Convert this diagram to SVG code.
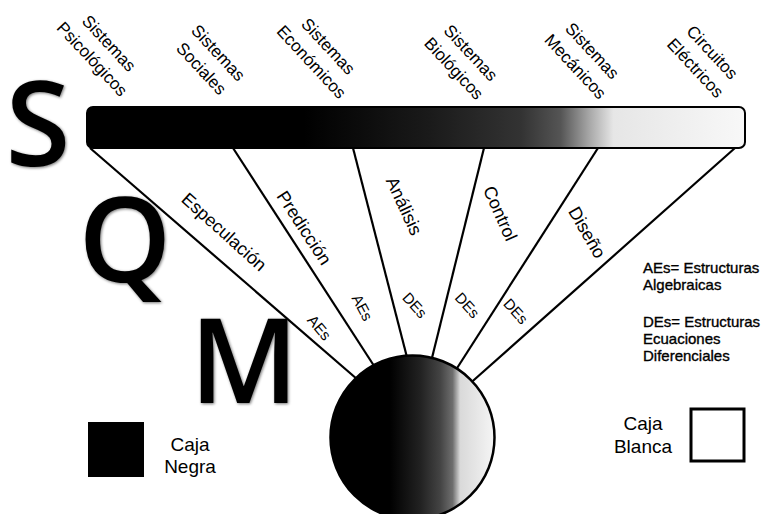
<svg xmlns="http://www.w3.org/2000/svg" width="769" height="514" viewBox="0 0 769 514">
<defs>
<linearGradient id="barGrad" x1="0" y1="0" x2="1" y2="0">
<stop offset="0" stop-color="#000"/>
<stop offset="0.33" stop-color="#000"/>
<stop offset="0.52" stop-color="#1a1a1a"/>
<stop offset="0.66" stop-color="#333"/>
<stop offset="0.72" stop-color="#555"/>
<stop offset="0.765" stop-color="#aaa"/>
<stop offset="0.80" stop-color="#e6e6e6"/>
<stop offset="1" stop-color="#f8f8f8"/>
</linearGradient>
<linearGradient id="circGrad" x1="0" y1="0" x2="1" y2="0">
<stop offset="0" stop-color="#000"/>
<stop offset="0.36" stop-color="#000"/>
<stop offset="0.55" stop-color="#222"/>
<stop offset="0.67" stop-color="#444"/>
<stop offset="0.745" stop-color="#6e6e6e"/>
<stop offset="0.79" stop-color="#d9d9d9"/>
<stop offset="1" stop-color="#f5f5f5"/>
</linearGradient>
<filter id="soft" x="-20%" y="-20%" width="140%" height="140%">
<feGaussianBlur in="SourceAlpha" stdDeviation="1.8"/>
<feOffset dx="1" dy="1" result="b"/>
<feComponentTransfer><feFuncA type="linear" slope="0.55"/></feComponentTransfer>
<feMerge><feMergeNode/><feMergeNode in="SourceGraphic"/></feMerge>
</filter>
</defs>
<style>
text{font-family:"Liberation Sans",Arial,sans-serif;fill:#000}
.top{font-size:17px;text-anchor:middle}
.fan{font-size:18px;text-anchor:middle}
.sm{font-size:15px;text-anchor:middle}
.leg{font-size:15px;stroke:#000;stroke-width:0.35}
.caja{font-size:19px;text-anchor:middle}
.big{font-family:"Open Sans","Liberation Sans",sans-serif;font-weight:600;font-size:118px;text-anchor:middle}
.conn{stroke:#000;stroke-width:2.2;fill:none}
</style>
<rect width="769" height="514" fill="#fff"/>

<g id="letters" filter="url(#soft)">
<text class="big" x="38" y="166">S</text>
<text class="big" x="125" y="282">Q</text>
<text class="big" x="244" y="403">M</text>
</g>

<g id="connectors">
<line class="conn" x1="90" y1="148" x2="365" y2="386"/>
<line class="conn" x1="233" y1="148" x2="378" y2="372"/>
<line class="conn" x1="353" y1="148" x2="409" y2="365"/>
<line class="conn" x1="484" y1="148" x2="430" y2="366"/>
<line class="conn" x1="598" y1="148" x2="452" y2="376"/>
<line class="conn" x1="735" y1="148" x2="466" y2="387"/>
</g>

<g id="bar">
<rect x="87" y="107" width="658" height="41" rx="6" fill="url(#barGrad)" stroke="#000" stroke-width="2"/>
</g>

<g id="circle">
<circle cx="412.5" cy="437.5" r="82" fill="url(#circGrad)" stroke="#000" stroke-width="2.5"/>
</g>

<g id="label-psicologicos" transform="translate(100.75,51) rotate(47)">
<text class="top" x="0" y="-5.5">Sistemas</text>
<text class="top" x="0" y="17.5">Psicológicos</text>
</g>
<g id="label-sociales" transform="translate(210,60.5) rotate(47)">
<text class="top" x="0" y="-5.5">Sistemas</text>
<text class="top" x="0" y="17.5">Sociales</text>
</g>
<g id="label-economicos" transform="translate(320,54) rotate(47)">
<text class="top" x="0" y="-5.5">Sistemas</text>
<text class="top" x="0" y="17.5">Económicos</text>
</g>
<g id="label-biologicos" transform="translate(462.5,60.5) rotate(47)">
<text class="top" x="0" y="-5.5">Sistemas</text>
<text class="top" x="0" y="17.5">Biológicos</text>
</g>
<g id="label-mecanicos" transform="translate(584,58.5) rotate(47)">
<text class="top" x="0" y="-5.5">Sistemas</text>
<text class="top" x="0" y="17.5">Mecánicos</text>
</g>
<g id="label-electricos" transform="translate(704,60) rotate(47)">
<text class="top" x="0" y="-5.5">Circuitos</text>
<text class="top" x="0" y="17.5">Eléctricos</text>
</g>

<g id="fan-labels">
<text class="fan" transform="translate(224,232) rotate(42)" y="6">Especulación</text>
<text class="fan" transform="translate(304,228) rotate(57)" y="6">Predicción</text>
<text class="fan" transform="translate(404,206) rotate(65)" y="6">Análisis</text>
<text class="fan" transform="translate(500,213.5) rotate(66)" y="6">Control</text>
<text class="fan" transform="translate(587,232.5) rotate(60)" y="6">Diseño</text>
<text class="sm" transform="translate(319.5,327.5) rotate(50)" y="5.5">AEs</text>
<text class="sm" transform="translate(362.5,307.5) rotate(62)" y="5.5">AEs</text>
<text class="sm" transform="translate(415,305) rotate(48)" y="5.5">DEs</text>
<text class="sm" transform="translate(467.5,305) rotate(48)" y="5.5">DEs</text>
<text class="sm" transform="translate(516,311) rotate(48)" y="5.5">DEs</text>
</g>

<g id="legend-abbrev">
<text class="leg" x="643" y="273">AEs= Estructuras</text>
<text class="leg" x="643" y="290">Algebraicas</text>
<text class="leg" x="643" y="327">DEs= Estructuras</text>
<text class="leg" x="643" y="344">Ecuaciones</text>
<text class="leg" x="643" y="361">Diferenciales</text>
</g>

<g id="caja-negra">
<rect x="88" y="422" width="56" height="55" fill="#000"/>
<text class="caja" x="190" y="451">Caja</text>
<text class="caja" x="190" y="473">Negra</text>
</g>

<g id="caja-blanca">
<rect x="691" y="409" width="53" height="52" fill="#fff" stroke="#000" stroke-width="3"/>
<text class="caja" x="643" y="430">Caja</text>
<text class="caja" x="643" y="453">Blanca</text>
</g>
</svg>
